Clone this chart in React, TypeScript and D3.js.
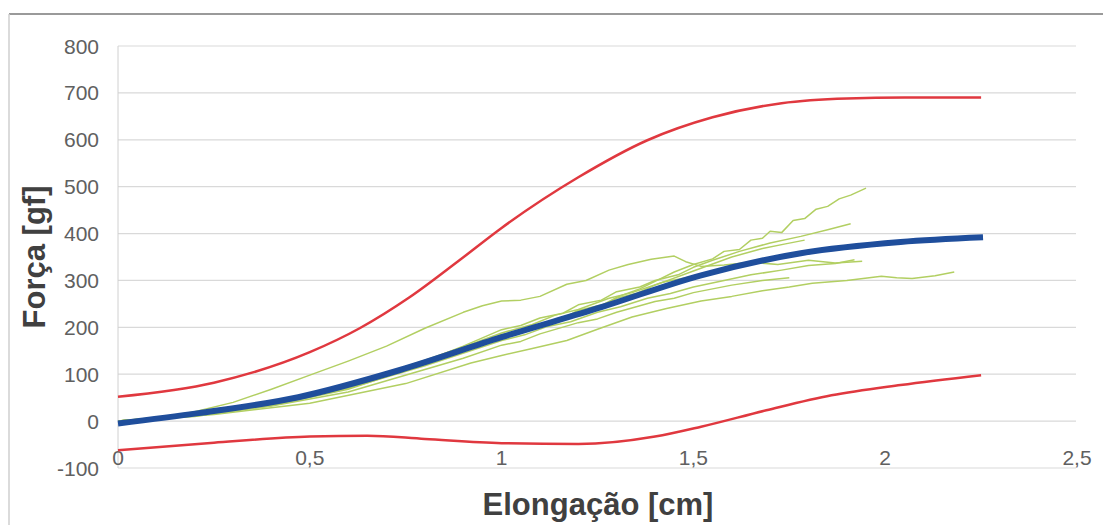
import React from 'react';
import * as d3 from 'd3';

type Pt = [number, number];

// x ticks / y ticks
const xTicks = [0, 0.5, 1, 1.5, 2, 2.5];
const yTicks = [-100, 0, 100, 200, 300, 400, 500, 600, 700, 800];

// upper / lower limit curves (red)
const upperLimit: Pt[] = [
  [0, 52], [0.25, 82], [0.5, 147], [0.63, 198], [0.76, 264], [0.89, 343], [1.0, 412],
  [1.2, 520], [1.38, 599], [1.55, 648], [1.73, 678], [1.9, 688], [2.05, 690], [2.25, 690],
];
const lowerLimit: Pt[] = [
  [0, -62], [0.25, -46], [0.5, -33], [0.65, -31], [0.8, -38], [1.0, -47], [1.2, -49],
  [1.4, -33], [1.52, -12], [1.69, 23], [1.86, 55], [2.04, 77], [2.25, 98],
];

// mean curve (blue)
const meanCurve: Pt[] = [
  [0, -5], [0.21, 17], [0.47, 51], [0.735, 109], [1.0, 179], [1.26, 243],
  [1.52, 311], [1.78, 358], [2.04, 382], [2.255, 392],
];

// individual samples (green)
const sampleA: Pt[] = [
  [0, 0], [0.1, 6], [0.2, 20], [0.3, 40], [0.4, 68], [0.5, 98], [0.6, 128], [0.7, 160],
  [0.8, 198], [0.9, 232], [0.95, 246], [1.0, 256], [1.05, 258], [1.1, 266], [1.17, 292],
  [1.22, 300], [1.28, 322], [1.33, 334], [1.39, 345], [1.45, 352], [1.48, 340], [1.52, 330],
  [1.58, 333], [1.65, 339], [1.72, 334], [1.8, 343], [1.87, 337], [1.94, 341],
];
const sampleB: Pt[] = [
  [0, 0], [0.2, 14], [0.4, 38], [0.6, 75], [0.8, 125], [0.9, 152], [1.0, 185], [1.05, 192],
  [1.1, 206], [1.15, 214], [1.2, 236], [1.25, 242], [1.3, 264], [1.36, 282], [1.4, 298],
  [1.45, 318], [1.5, 334], [1.55, 346], [1.58, 362], [1.62, 366], [1.65, 386], [1.68, 390],
  [1.7, 405], [1.73, 402], [1.76, 428], [1.79, 432], [1.82, 452], [1.85, 458], [1.88, 474],
  [1.91, 482], [1.95, 497],
];
const sampleC: Pt[] = [
  [0, 0], [0.2, 12], [0.4, 36], [0.6, 72], [0.8, 128], [0.9, 160], [1.0, 195], [1.05, 204],
  [1.1, 220], [1.16, 230], [1.2, 248], [1.26, 258], [1.3, 276], [1.36, 286], [1.4, 300],
  [1.46, 312], [1.5, 328], [1.55, 343], [1.62, 362], [1.7, 380], [1.78, 394], [1.85, 408],
  [1.91, 421],
];
const sampleD: Pt[] = [
  [0, 0], [0.2, 10], [0.4, 33], [0.6, 68], [0.8, 122], [0.9, 150], [1.0, 180], [1.06, 192],
  [1.1, 205], [1.15, 214], [1.2, 236], [1.27, 250], [1.3, 262], [1.35, 272], [1.4, 290],
  [1.5, 320], [1.6, 350], [1.68, 368], [1.74, 378], [1.79, 386],
];
const sampleE: Pt[] = [
  [0, 0], [0.25, 14], [0.5, 38], [0.75, 80], [0.92, 124], [1.0, 140], [1.08, 155],
  [1.17, 172], [1.25, 196], [1.34, 222], [1.43, 240], [1.52, 256], [1.6, 266], [1.68, 278],
  [1.75, 286], [1.81, 294], [1.9, 300], [1.99, 309], [2.03, 306], [2.07, 304], [2.13, 310],
  [2.18, 318],
];
const sampleF: Pt[] = [
  [0, 0], [0.2, 11], [0.4, 32], [0.6, 62], [0.8, 110], [0.9, 134], [1.0, 162], [1.05, 170],
  [1.1, 186], [1.2, 210], [1.25, 218], [1.3, 232], [1.4, 255], [1.45, 262], [1.5, 274],
  [1.6, 290], [1.68, 300], [1.75, 306],
];
const sampleG: Pt[] = [
  [0, 0], [0.2, 13], [0.4, 35], [0.6, 70], [0.8, 118], [1.0, 172], [1.06, 184], [1.12, 202],
  [1.18, 212], [1.25, 232], [1.31, 244], [1.38, 262], [1.44, 272], [1.5, 286], [1.58, 300],
  [1.65, 312], [1.73, 322], [1.8, 332], [1.87, 336], [1.92, 344],
];
const sampleH: Pt[] = [
  [0, 0], [0.2, 15], [0.4, 40], [0.6, 76], [0.8, 130], [0.9, 158], [1.0, 188], [1.08, 206],
  [1.14, 226], [1.2, 238], [1.28, 262], [1.34, 274], [1.42, 296], [1.48, 306], [1.55, 318],
  [1.6, 324],
];
const samples = [sampleA, sampleB, sampleC, sampleD, sampleE, sampleF, sampleG, sampleH];

const W = 1103;
const H = 525;
const x = d3.scaleLinear().domain([0, 2.5]).range([118, 1077]);
const y = d3.scaleLinear().domain([-100, 800]).range([468, 46]);

const smooth = d3.line<Pt>().x(d => x(d[0])).y(d => y(d[1])).curve(d3.curveMonotoneX);
const raw = d3.line<Pt>().x(d => x(d[0])).y(d => y(d[1]));

const tickFont = 'Liberation Sans, Arial, sans-serif';

export default function App() {
  return (
    <svg width={W} height={H} style={{ position: 'absolute', left: 0, top: 0, background: '#fff' }}>
      {/* frame */}
      <line x1={9} x2={W} y1={14} y2={14} stroke="#9a9a9a" strokeWidth={2} />
      <line x1={9} x2={9} y1={14} y2={H} stroke="#cfcfcf" strokeWidth={1.5} />

      {/* grid */}
      {yTicks.map(t => (
        <line key={t} x1={118} x2={1076} y1={y(t)} y2={y(t)} stroke="#d9d9d9" strokeWidth={1.2} />
      ))}
      <line x1={118} x2={118} y1={y(800)} y2={y(-100)} stroke="#d0d0d0" strokeWidth={1} />

      {/* y tick labels */}
      {yTicks.map(t => (
        <text key={t} x={99} y={y(t)} dy="0.36em" textAnchor="end" fontFamily={tickFont}
          fontSize={21} fill="#606060">{t}</text>
      ))}
      {/* x tick labels */}
      {xTicks.map(t => (
        <text key={t} x={x(t)} y={465} textAnchor="middle" fontFamily={tickFont}
          fontSize={21} fill="#606060">{String(t).replace('.', ',')}</text>
      ))}

      {/* limits */}
      <path d={smooth(upperLimit) || ''} fill="none" stroke="#e0383f" strokeWidth={2.5} />
      <path d={smooth(lowerLimit) || ''} fill="none" stroke="#e0383f" strokeWidth={2.5} />

      {/* samples */}
      {samples.map((s, i) => (
        <path key={i} d={raw(s) || ''} fill="none" stroke="#b2cf62" strokeWidth={1.5}
          strokeLinejoin="round" />
      ))}

      {/* mean */}
      <path d={smooth(meanCurve) || ''} fill="none" stroke="#1f4e9c" strokeWidth={6}
        strokeLinecap="butt" />

      {/* axis titles */}
      <text x={598} y={515} textAnchor="middle" fontFamily={tickFont} fontWeight="bold"
        fontSize={31} fill="#404040">Elongação [cm]</text>
      <text transform={`translate(45, 257) rotate(-90)`} textAnchor="middle" fontFamily={tickFont}
        fontWeight="bold" fontSize={31} fill="#404040">Força [gf]</text>
    </svg>
  );
}
